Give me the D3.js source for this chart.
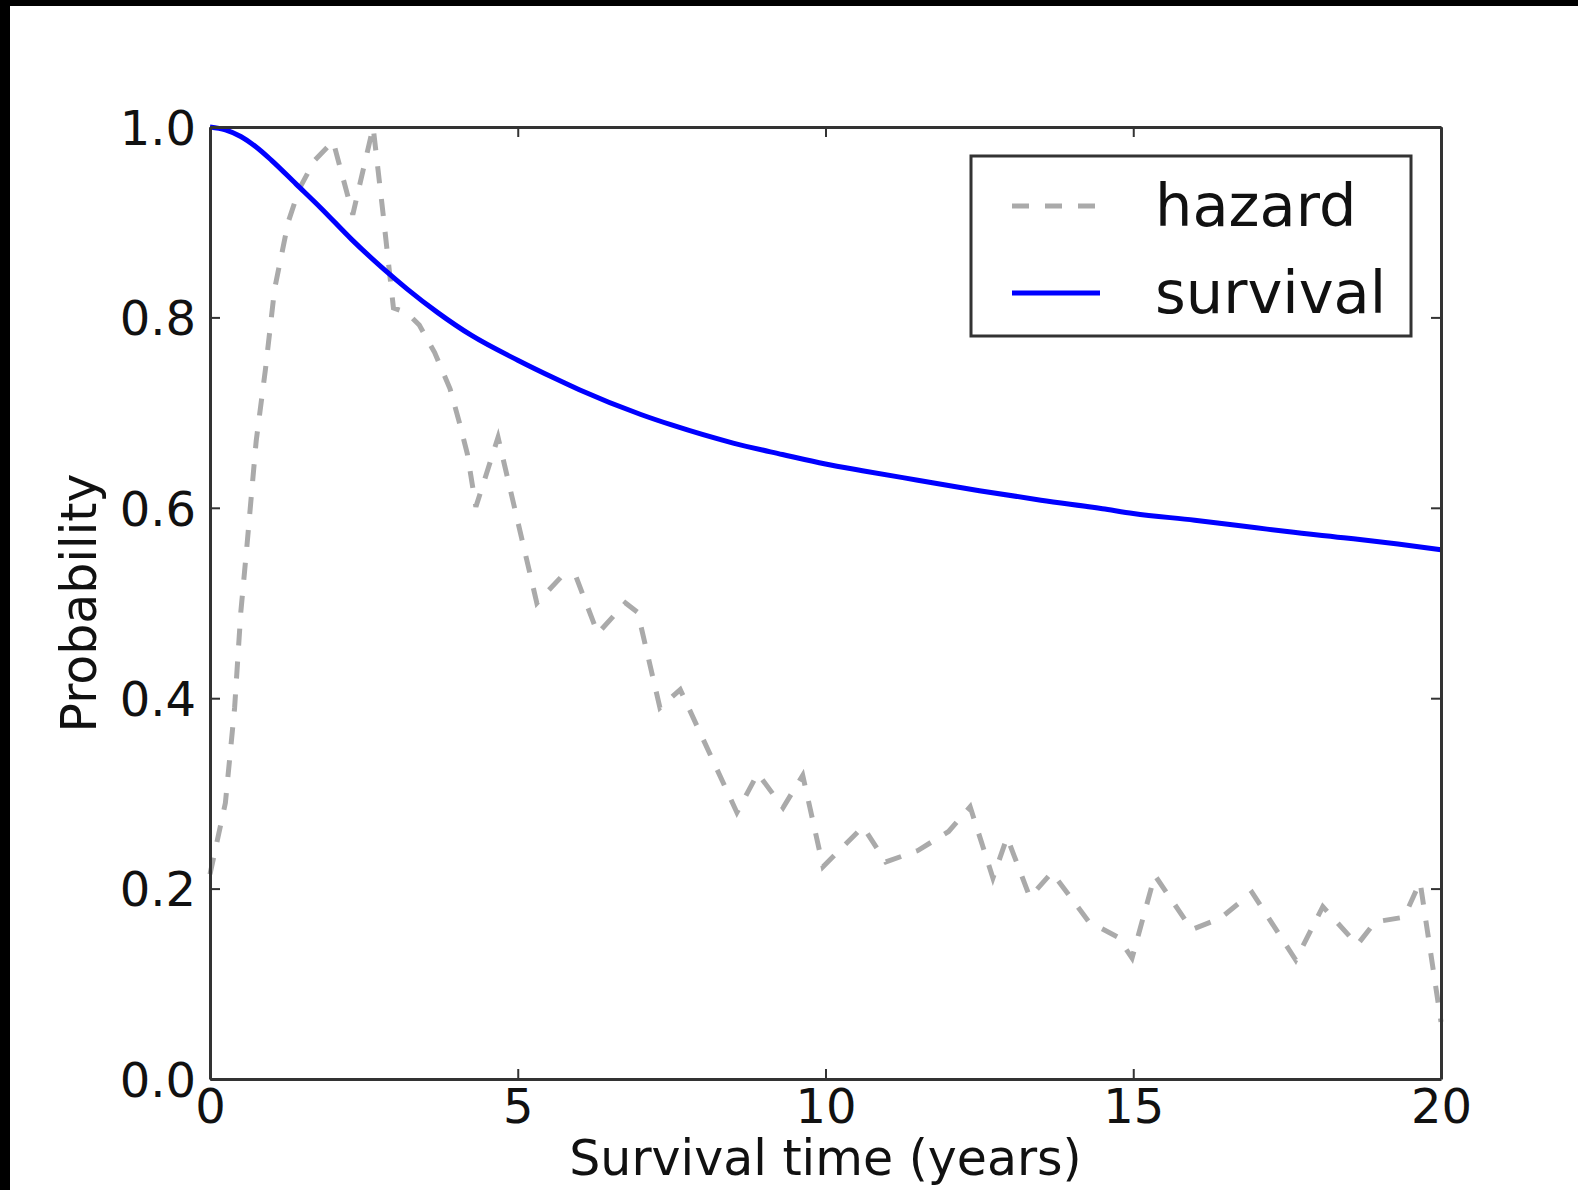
<!DOCTYPE html>
<html>
<head>
<meta charset="utf-8">
<script src="https://cdn.jsdelivr.net/npm/d3@7"></script>
<style>
  body { margin: 0; background: #fff; }
  text { font-family: "DejaVu Sans", sans-serif; }
</style>
</head>
<body>
<div id="chart"></div>
<script>
const width = 1578
const height = 1190
const margin = {top: 127, bottom: 111, left: 210, right: 137}

// hazard curve: [years, value]
const hazardYears = [0, 0.25, 0.4, 0.5, 0.6, 0.75, 0.9, 1.05, 1.27, 1.45, 1.7, 2.0, 2.32, 2.65, 2.81, 2.98, 3.2, 3.4, 3.65, 3.9, 4.05, 4.18, 4.32, 4.68, 5.31, 5.7, 5.95, 6.3, 6.75, 6.95, 7.31, 7.64, 8.56, 8.9, 9.31, 9.63, 9.96, 10.61, 10.98, 11.5, 12.0, 12.35, 12.72, 12.95, 13.32, 13.68, 14.28, 14.75, 14.98, 15.35, 15.95, 16.42, 16.93, 17.64, 18.08, 18.64, 18.93, 19.4, 19.66, 20.0]
const hazardValues = [0.215, 0.29, 0.39, 0.49, 0.56, 0.67, 0.745, 0.83, 0.9, 0.935, 0.965, 0.985, 0.908, 1.0, 0.91, 0.81, 0.805, 0.792, 0.763, 0.725, 0.69, 0.657, 0.601, 0.674, 0.5, 0.527, 0.527, 0.468, 0.5, 0.49, 0.39, 0.409, 0.28, 0.321, 0.285, 0.319, 0.223, 0.265, 0.228, 0.24, 0.26, 0.286, 0.211, 0.254, 0.191, 0.217, 0.165, 0.149, 0.127, 0.214, 0.157, 0.169, 0.196, 0.125, 0.181, 0.141, 0.165, 0.17, 0.207, 0.06]

// survival curve
const survivalYears = [0, 0.25, 0.5, 0.75, 1.0, 1.4, 1.8, 2.3, 2.8, 3.2, 3.7, 4.25, 5, 5.6, 6, 7, 7.5, 8.5, 9.3, 10, 10.6, 11.5, 12.5, 13.5, 14.5, 15, 16, 17, 17.5, 18.5, 19.3, 20]
const survivalValues = [1.0, 0.997, 0.99, 0.979, 0.965, 0.94, 0.915, 0.882, 0.852, 0.83, 0.805, 0.781, 0.755, 0.736, 0.724, 0.698, 0.687, 0.668, 0.656, 0.646, 0.639, 0.629, 0.618, 0.608, 0.599, 0.594, 0.587, 0.579, 0.575, 0.568, 0.562, 0.556]

const xTicks = [0, 5, 10, 15, 20]
const yTicks = [0, 0.2, 0.4, 0.6, 0.8, 1.0]

const innerW = width - margin.left - margin.right
const innerH = height - margin.top - margin.bottom

const svg = d3.select("#chart").append("svg").attr("width", width).attr("height", height)
svg.append("rect").attr("width", width).attr("height", height).attr("fill", "#fff")
// dark frame bits at the picture's top and left edges
svg.append("rect").attr("width", width).attr("height", 6).attr("fill", "#000")
svg.append("rect").attr("width", 10).attr("height", height).attr("fill", "#000")

const elementGroup = svg.append("g").attr("transform", `translate(${margin.left}, ${margin.top})`)
const axisGroup = svg.append("g").attr("transform", `translate(${margin.left}, ${margin.top})`)

const x = d3.scaleLinear().domain([0, 20]).range([0, innerW])
const y = d3.scaleLinear().domain([0, 1]).range([innerH, 0])

const xAxis = d3.axisBottom(x).tickValues(xTicks).tickSizeInner(-10).tickSizeOuter(0).tickPadding(10).tickFormat(d3.format("d"))
const yAxis = d3.axisLeft(y).tickValues(yTicks).tickSizeInner(-10).tickSizeOuter(0).tickPadding(14).tickFormat(d3.format(".1f"))
const xTop = d3.axisTop(x).tickValues(xTicks).tickSizeInner(-10).tickSizeOuter(0).tickFormat("")
const yRight = d3.axisRight(y).tickValues(yTicks).tickSizeInner(-10).tickSizeOuter(0).tickFormat("")

const styleAxis = g => {
    g.select(".domain").attr("stroke", "#333").attr("stroke-width", 3)
    g.selectAll(".tick line").attr("stroke", "#333").attr("stroke-width", 2)
    g.selectAll(".tick text").attr("font-size", 48).attr("fill", "#111").attr("font-family", "DejaVu Sans, sans-serif")
}

// lines
const hazard = hazardYears.map((d, i) => [d, hazardValues[i]])
const survival = survivalYears.map((d, i) => [d, survivalValues[i]])

elementGroup.append("path")
    .datum(hazard)
    .attr("fill", "none")
    .attr("stroke", "#aaaaaa")
    .attr("stroke-width", 5)
    .attr("stroke-dasharray", "17,16")
    .attr("d", d3.line().x(d => x(d[0])).y(d => y(d[1])))

elementGroup.append("path")
    .datum(survival)
    .attr("fill", "none")
    .attr("stroke", "#0000ff")
    .attr("stroke-width", 5)
    .attr("d", d3.line().curve(d3.curveMonotoneX).x(d => x(d[0])).y(d => y(d[1])))

axisGroup.append("g").attr("transform", `translate(0, ${innerH})`).call(xAxis).call(styleAxis)
axisGroup.append("g").call(yAxis).call(styleAxis).selectAll(".tick text").attr("dy", "0.36em")
axisGroup.append("g").call(xTop).call(styleAxis)
axisGroup.append("g").attr("transform", `translate(${innerW}, 0)`).call(yRight).call(styleAxis)

// axis labels
svg.append("text")
    .attr("x", margin.left + innerW / 2)
    .attr("y", 1175)
    .attr("text-anchor", "middle")
    .attr("font-size", 49)
    .attr("fill", "#111")
    .text("Survival time (years)")

svg.append("text")
    .attr("transform", `translate(96, ${margin.top + innerH / 2}) rotate(-90)`)
    .attr("text-anchor", "middle")
    .attr("font-size", 49)
    .attr("fill", "#111")
    .text("Probability")

// legend
const legend = svg.append("g")
legend.append("rect")
    .attr("x", 971).attr("y", 156).attr("width", 440).attr("height", 180)
    .attr("fill", "#fff").attr("stroke", "#333").attr("stroke-width", 3)

const legendItems = [
    {label: "hazard", color: "#aaaaaa", dash: "17,16", y: 206},
    {label: "survival", color: "#0000ff", dash: null, y: 293}
]
legendItems.forEach(d => {
    legend.append("line")
        .attr("x1", 1012).attr("x2", 1100).attr("y1", d.y).attr("y2", d.y)
        .attr("stroke", d.color).attr("stroke-width", 5)
        .attr("stroke-dasharray", d.dash)
    legend.append("text")
        .attr("x", 1155).attr("y", d.y + 20)
        .attr("font-size", 59)
        .attr("fill", "#111")
        .text(d.label)
})
</script>
</body>
</html>
